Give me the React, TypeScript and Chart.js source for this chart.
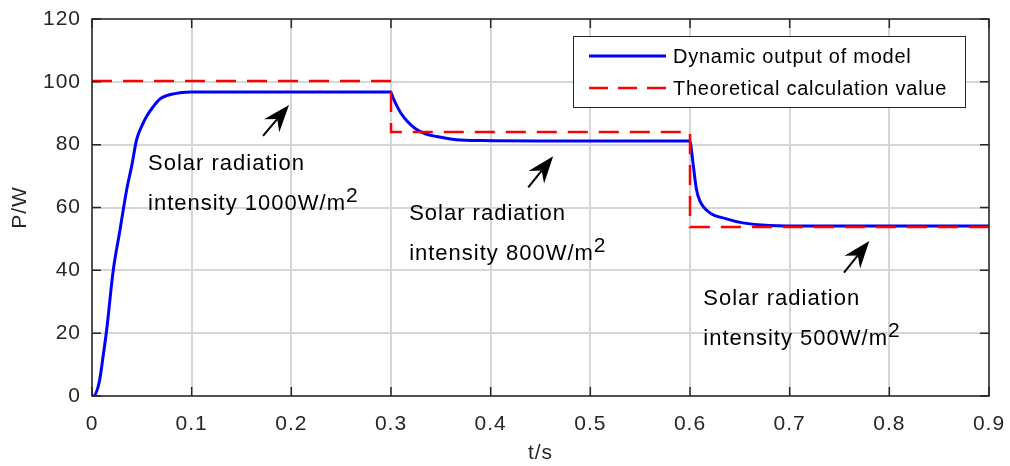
import { useEffect, useRef } from 'react';
import { Chart, registerables } from 'chart.js';

Chart.register(...registerables);

const FONT = '"Liberation Sans", Arial, Helvetica, sans-serif';
const AXIS_COLOR = '#262626';
const GRID_COLOR = '#d6d6d6';

// Dynamic output of model (blue)
const T_MODEL = [
  0, 0.0013, 0.0073, 0.0113, 0.0147, 0.0213, 0.028, 0.0347, 0.04, 0.0447, 0.0496, 0.0547, 0.0612,
  0.068, 0.0747, 0.088, 0.1, 0.15, 0.2, 0.25, 0.2995,
  0.302, 0.305, 0.31, 0.317, 0.325, 0.335, 0.3457, 0.3657, 0.392, 0.45, 0.5, 0.55, 0.5995,
  0.6005, 0.603, 0.6065, 0.61, 0.62, 0.6366, 0.653, 0.68, 0.72, 0.8, 0.9,
];
const P_MODEL = [
  0, 0, 4.5, 13, 21, 40, 52.7, 65.5, 73.5, 81.5, 85.7, 89, 92,
  94.5, 95.6, 96.5, 96.8, 96.8, 96.8, 96.8, 96.8,
  95.0, 92.9, 90.0, 87.2, 85.0, 83.4, 82.6, 81.6, 81.3, 81.2, 81.2, 81.2, 81.2,
  80.5, 74.2, 65.7, 62, 58.3, 56.4, 55.1, 54.3, 54.1, 54.1, 54.1,
];

// Theoretical calculation value (red dashed)
const T_THEORY = [0, 0.3, 0.3, 0.6, 0.6, 0.9];
const P_THEORY = [100.3, 100.3, 84, 84, 53.8, 53.8];

const X_TICKS = [0, 0.1, 0.2, 0.3, 0.4, 0.5, 0.6, 0.7, 0.8, 0.9];
const Y_TICKS = [0, 20, 40, 60, 80, 100, 120];

const SERIES_NAMES = ['Dynamic output of model', 'Theoretical calculation value'];

// Annotation labels: [t, P of first baseline, irradiance text]
const NOTE_T = [0.0562, 0.3182, 0.6133];
const NOTE_P = [71.9, 55.9, 28.9];
const NOTE_IRR = ['1000', '800', '500'];
// Arrows: tail (t,P) -> tip (t,P)
const ARROW_T0 = [0.1716, 0.4377, 0.7545];
const ARROW_P0 = [82.8, 66.4, 39.3];
const ARROW_T1 = [0.1977, 0.4627, 0.7799];
const ARROW_P1 = [92.6, 76.3, 49.3];

function drawArrow(ctx: CanvasRenderingContext2D, x1: number, y1: number, x2: number, y2: number) {
  const dx = x2 - x1, dy = y2 - y1;
  const len = Math.hypot(dx, dy);
  const ux = dx / len, uy = dy / len;
  const nx = -uy, ny = ux;
  const L = 27, W = 10;
  const bx = x2 - ux * L, by = y2 - uy * L;
  const mx = x2 - ux * L * 0.68, my = y2 - uy * L * 0.68;
  ctx.save();
  ctx.strokeStyle = '#000';
  ctx.fillStyle = '#000';
  ctx.lineWidth = 2;
  ctx.beginPath();
  ctx.moveTo(x1, y1);
  ctx.lineTo(mx, my);
  ctx.stroke();
  ctx.beginPath();
  ctx.moveTo(x2, y2);
  ctx.lineTo(bx + nx * W, by + ny * W);
  ctx.lineTo(mx, my);
  ctx.lineTo(bx - nx * W, by - ny * W);
  ctx.closePath();
  ctx.fill();
  ctx.restore();
}

const spacingPlugin = {
  id: 'spacing',
  beforeUpdate(chart: any) {
    chart.ctx.letterSpacing = '1px';
  },
  beforeDraw(chart: any) {
    chart.ctx.letterSpacing = '1px';
  },
};

const framePlugin = {
  id: 'frame',
  afterDatasetsDraw(chart: any) {
    const { ctx, chartArea } = chart;
    const { left, right, top, bottom } = chartArea;
    const xs = chart.scales.x;
    const ys = chart.scales.y;
    const TL = 9;
    ctx.save();
    ctx.strokeStyle = AXIS_COLOR;
    ctx.lineWidth = 1.5;
    ctx.beginPath();
    for (const v of X_TICKS) {
      const px = xs.getPixelForValue(v);
      ctx.moveTo(px, bottom);
      ctx.lineTo(px, bottom - TL);
      ctx.moveTo(px, top);
      ctx.lineTo(px, top + TL);
    }
    for (const v of Y_TICKS) {
      const py = ys.getPixelForValue(v);
      ctx.moveTo(left, py);
      ctx.lineTo(left + TL, py);
      ctx.moveTo(right, py);
      ctx.lineTo(right - TL, py);
    }
    ctx.stroke();
    ctx.strokeRect(left, top, right - left, bottom - top);
    ctx.restore();
  },
  afterDraw(chart: any) {
    const { ctx } = chart;
    const xs = chart.scales.x;
    const ys = chart.scales.y;
    ctx.save();
    ctx.letterSpacing = '1px';
    // annotations
    for (let i = 0; i < NOTE_T.length; i++) {
      const x = xs.getPixelForValue(NOTE_T[i]);
      const y = ys.getPixelForValue(NOTE_P[i]);
      ctx.fillStyle = '#000';
      ctx.textAlign = 'left';
      ctx.textBaseline = 'alphabetic';
      ctx.font = `22px ${FONT}`;
      ctx.fillText('Solar radiation', x, y);
      const line2 = `intensity ${NOTE_IRR[i]}W/m`;
      ctx.fillText(line2, x, y + 40);
      const w = ctx.measureText(line2).width;
      ctx.font = `21px ${FONT}`;
      ctx.fillText('2', x + w, y + 40 - 8);
      drawArrow(
        ctx,
        xs.getPixelForValue(ARROW_T0[i]), ys.getPixelForValue(ARROW_P0[i]),
        xs.getPixelForValue(ARROW_T1[i]), ys.getPixelForValue(ARROW_P1[i])
      );
    }
    // legend
    const lx = 573, ly = 36, lw = 392, lh = 71;
    ctx.fillStyle = '#fff';
    ctx.fillRect(lx, ly, lw, lh);
    ctx.strokeStyle = '#262626';
    ctx.lineWidth = 1;
    ctx.strokeRect(lx + 0.5, ly + 0.5, lw, lh);
    const rows = [56, 88];
    const colors = ['#0000ff', '#ff0000'];
    for (let i = 0; i < 2; i++) {
      ctx.beginPath();
      ctx.strokeStyle = colors[i];
      ctx.lineWidth = i === 0 ? 3 : 2.5;
      ctx.setLineDash(i === 0 ? [] : [19, 10]);
      ctx.moveTo(589, rows[i]);
      ctx.lineTo(666, rows[i]);
      ctx.stroke();
      ctx.setLineDash([]);
      ctx.fillStyle = '#000';
      ctx.font = `20px ${FONT}`;
      ctx.letterSpacing = '0.75px';
      ctx.textBaseline = 'middle';
      ctx.fillText(SERIES_NAMES[i], 673, rows[i] + 1);
    }
    ctx.restore();
  },
};

export default function App() {
  const ref = useRef<HTMLCanvasElement>(null);
  useEffect(() => {
    const modelData = T_MODEL.map((t, i) => ({ x: t, y: P_MODEL[i] }));
    const theoryData = T_THEORY.map((t, i) => ({ x: t, y: P_THEORY[i] }));
    const chart = new Chart(ref.current!, {
      type: 'line',
      data: {
        datasets: [
          {
            label: SERIES_NAMES[0],
            data: modelData,
            borderColor: '#0000ff',
            borderWidth: 3,
            pointRadius: 0,
            fill: false,
            cubicInterpolationMode: 'monotone',
            order: 1,
          },
          {
            label: SERIES_NAMES[1],
            data: theoryData,
            borderColor: '#ff0000',
            borderWidth: 2.5,
            borderDash: [20, 11],
            pointRadius: 0,
            fill: false,
            tension: 0,
            order: 0,
          },
        ],
      },
      options: {
        animation: false,
        responsive: true,
        maintainAspectRatio: false,
        layout: { padding: { top: 19, right: 21, left: 0, bottom: 0 } },
        plugins: { legend: { display: false }, tooltip: { enabled: false } },
        scales: {
          x: {
            type: 'linear',
            min: 0,
            max: 0.9,
            afterFit: (s: any) => {
              s.height = 70;
              s.paddingLeft = 0;
              s.paddingRight = 0;
            },
            afterBuildTicks: (s: any) => { s.ticks = X_TICKS.map((v) => ({ value: v })); },
            ticks: {
              padding: 16,
              color: AXIS_COLOR,
              font: { family: FONT, size: 21 },
              callback: (v: any) => (Number(v) === 0 ? '0' : Number(v).toFixed(1)),
              maxRotation: 0,
            },
            grid: { color: GRID_COLOR, lineWidth: 2, drawTicks: false },
            border: { display: false },
            title: {
              display: true,
              text: 't/s',
              color: AXIS_COLOR,
              font: { family: FONT, size: 21 },
              padding: { top: 0, bottom: 0 },
            },
          },
          y: {
            type: 'linear',
            min: 0,
            max: 120,
            afterFit: (s: any) => {
              s.width = 92;
              s.paddingTop = 0;
              s.paddingBottom = 0;
            },
            afterBuildTicks: (s: any) => { s.ticks = Y_TICKS.map((v) => ({ value: v })); },
            ticks: {
              padding: 11,
              color: AXIS_COLOR,
              font: { family: FONT, size: 21 },
            },
            grid: { color: GRID_COLOR, lineWidth: 2, drawTicks: false },
            border: { display: false },
            title: {
              display: true,
              text: 'P/W',
              color: AXIS_COLOR,
              font: { family: FONT, size: 21 },
              padding: { top: 8, bottom: 0 },
            },
          },
        },
      },
      plugins: [spacingPlugin, framePlugin],
    } as any);
    return () => chart.destroy();
  }, []);
  return (
    <div style={{ position: 'fixed', left: 0, top: 0, width: 1010, height: 466, background: '#fff' }}>
      <canvas ref={ref} />
    </div>
  );
}
